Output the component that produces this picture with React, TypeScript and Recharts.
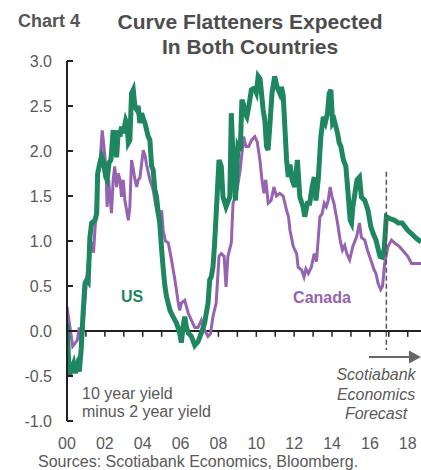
import React from 'react';
import { LineChart, Line, XAxis, YAxis, ReferenceLine } from 'recharts';

// 10 year minus 2 year yield spread
const usT = [2000.0, 2000.12, 2000.25, 2000.35, 2000.45, 2000.55, 2000.65, 2000.75, 2000.85, 2000.95, 2001.05, 2001.12, 2001.21, 2001.3, 2001.48, 2001.57, 2001.62, 2001.74, 2001.83, 2001.92, 2002.05, 2002.12, 2002.22, 2002.32, 2002.44, 2002.52, 2002.62, 2002.71, 2002.8, 2002.88, 2002.97, 2003.1, 2003.17, 2003.24, 2003.32, 2003.41, 2003.5, 2003.59, 2003.68, 2003.76, 2003.85, 2003.94, 2004.05, 2004.12, 2004.21, 2004.29, 2004.38, 2004.47, 2004.55, 2004.64, 2004.73, 2004.82, 2004.9, 2005.0, 2005.08, 2005.17, 2005.26, 2005.44, 2005.6, 2005.78, 2005.95, 2006.04, 2006.13, 2006.22, 2006.3, 2006.4, 2006.57, 2006.75, 2006.92, 2007.1, 2007.27, 2007.45, 2007.54, 2007.62, 2007.71, 2007.8, 2007.89, 2008.03, 2008.15, 2008.24, 2008.4, 2008.6, 2008.68, 2008.74, 2008.8, 2008.9, 2009.03, 2009.15, 2009.24, 2009.32, 2009.4, 2009.5, 2009.6, 2009.74, 2009.9, 2010.0, 2010.1, 2010.2, 2010.36, 2010.45, 2010.54, 2010.62, 2010.71, 2010.83, 2010.97, 2011.1, 2011.24, 2011.33, 2011.42, 2011.6, 2011.69, 2011.78, 2011.89, 2012.03, 2012.17, 2012.3, 2012.47, 2012.56, 2012.7, 2012.82, 2012.95, 2013.06, 2013.15, 2013.27, 2013.41, 2013.54, 2013.65, 2013.76, 2013.85, 2013.94, 2014.03, 2014.12, 2014.29, 2014.38, 2014.47, 2014.6, 2014.73, 2014.82, 2014.96, 2015.03, 2015.1, 2015.32, 2015.45, 2015.55, 2015.73, 2015.9, 2016.05, 2016.18, 2016.32, 2016.45, 2016.53, 2016.65, 2016.75, 2016.87, 2017.05, 2017.3, 2017.5, 2017.7, 2017.85, 2018.0, 2018.2, 2018.45, 2018.7];
const usV = [0.09, -0.5, -0.42, -0.36, -0.47, -0.38, -0.45, -0.2, 0.2, 0.53, 0.57, 0.55, 1.04, 1.2, 1.23, 1.31, 1.75, 1.87, 1.94, 1.88, 1.71, 1.68, 1.87, 1.9, 2.23, 2.16, 1.93, 2.23, 2.16, 2.27, 2.2, 2.34, 2.3, 2.09, 2.12, 2.64, 2.68, 2.49, 2.46, 2.5, 2.31, 2.42, 2.35, 2.31, 2.23, 2.16, 2.12, 1.83, 1.79, 1.57, 1.49, 1.31, 1.2, 0.9, 0.7, 0.5, 0.38, 0.23, 0.16, 0.09, -0.02, -0.13, 0.05, 0.16, 0.05, -0.02, -0.06, -0.16, -0.12, -0.02, 0.09, 0.31, 0.57, 0.6, 0.71, 0.98, 1.34, 1.9, 1.83, 1.49, 1.38, 1.49, 2.42, 2.1, 1.87, 1.45, 2.05, 2.0, 2.57, 2.52, 2.42, 2.38, 2.49, 2.68, 2.7, 2.65, 2.83, 2.8, 2.46, 2.34, 2.05, 2.01, 2.27, 2.64, 2.83, 2.71, 2.64, 2.71, 2.62, 1.9, 1.71, 1.85, 1.68, 1.6, 1.9, 1.49, 1.38, 1.27, 1.42, 1.42, 1.6, 1.71, 1.45, 1.68, 2.16, 2.38, 2.32, 2.42, 2.64, 2.68, 2.31, 2.34, 2.2, 2.09, 2.05, 1.9, 1.83, 1.6, 1.23, 1.2, 1.38, 1.68, 1.71, 1.49, 1.45, 1.34, 1.16, 1.08, 1.01, 0.9, 0.83, 0.82, 0.9, 1.27, 1.25, 1.23, 1.2, 1.2, 1.16, 1.12, 1.08, 1.03, 0.99];

const caT = [2000.0, 2000.15, 2000.3, 2000.45, 2000.55, 2000.65, 2000.78, 2000.9, 2001.0, 2001.12, 2001.25, 2001.4, 2001.5, 2001.6, 2001.74, 2001.86, 2001.95, 2002.05, 2002.12, 2002.2, 2002.35, 2002.44, 2002.52, 2002.62, 2002.71, 2002.8, 2002.88, 2002.97, 2003.06, 2003.24, 2003.32, 2003.41, 2003.5, 2003.59, 2003.68, 2003.76, 2003.85, 2004.03, 2004.12, 2004.2, 2004.38, 2004.55, 2004.73, 2004.9, 2005.0, 2005.08, 2005.2, 2005.35, 2005.52, 2005.7, 2005.86, 2005.95, 2006.04, 2006.22, 2006.4, 2006.57, 2006.75, 2006.92, 2007.1, 2007.27, 2007.45, 2007.58, 2007.71, 2007.88, 2008.03, 2008.15, 2008.3, 2008.4, 2008.5, 2008.68, 2008.77, 2008.95, 2009.15, 2009.33, 2009.45, 2009.6, 2009.75, 2009.92, 2010.05, 2010.19, 2010.3, 2010.4, 2010.5, 2010.63, 2010.78, 2010.93, 2011.06, 2011.24, 2011.42, 2011.6, 2011.7, 2011.78, 2011.95, 2012.13, 2012.21, 2012.39, 2012.52, 2012.62, 2012.75, 2012.91, 2013.06, 2013.18, 2013.36, 2013.47, 2013.59, 2013.7, 2013.8, 2013.9, 2014.0, 2014.1, 2014.29, 2014.43, 2014.55, 2014.67, 2014.78, 2014.93, 2015.1, 2015.3, 2015.45, 2015.55, 2015.73, 2015.87, 2016.05, 2016.22, 2016.32, 2016.43, 2016.57, 2016.67, 2016.78, 2016.96, 2017.14, 2017.35, 2017.55, 2017.8, 2018.0, 2018.2, 2018.7];
const caV = [0.27, 0.05, -0.17, -0.13, -0.1, 0.04, -0.15, 0.2, 0.5, 0.75, 1.0, 0.87, 1.2, 1.68, 1.87, 2.23, 2.05, 1.83, 1.38, 1.68, 1.31, 1.68, 1.83, 1.6, 1.75, 1.68, 1.49, 1.68, 1.45, 1.23, 1.38, 1.9, 1.8, 1.68, 1.6, 1.68, 1.7, 2.01, 1.95, 1.85, 1.68, 1.57, 1.34, 1.23, 1.34, 1.12, 1.0, 0.98, 0.79, 0.57, 0.34, 0.23, 0.31, 0.34, 0.2, 0.12, 0.04, 0.04, 0.12, 0.01, -0.06, -0.03, 0.16, 0.31, 0.83, 0.86, 0.83, 0.49, 0.83, 0.98, 1.42, 1.53, 1.79, 2.16, 2.05, 2.05, 2.12, 2.16, 2.1, 1.9, 1.68, 1.53, 1.68, 1.42, 1.45, 1.6, 1.5, 1.53, 1.5, 1.34, 1.27, 1.12, 0.94, 0.86, 0.71, 0.68, 0.6, 0.69, 0.64, 0.71, 0.86, 0.77, 1.27, 1.3, 1.42, 1.38, 1.45, 1.6, 1.49, 1.42, 1.2, 1.01, 0.9, 0.95, 0.86, 0.79, 0.94, 1.05, 1.2, 1.04, 1.01, 0.9, 0.79, 0.68, 0.64, 0.53, 0.46, 0.5, 0.75, 0.94, 1.01, 0.97, 0.94, 0.88, 0.83, 0.75, 0.75];

const xTicks = [2000, 2002, 2004, 2006, 2008, 2010, 2012, 2014, 2016, 2018];
const yearMarks = [2001, 2002, 2003, 2004, 2005, 2006, 2007, 2008, 2009, 2010, 2011, 2012, 2013, 2014, 2015, 2016, 2017, 2018];
const yTicks = [-1, -0.5, 0, 0.5, 1, 1.5, 2, 2.5, 3];
const forecastStart = 2016.87;

const usData = usT.map((t, i) => ({ t, v: usV[i] }));
const caData = caT.map((t, i) => ({ t, v: caV[i] }));

const FONT = '"Liberation Sans", Arial, sans-serif';
const TEXT = '#595959';
const US_COLOR = '#1e8760';
const CA_COLOR = '#9663b2';

const YTick = (props: any) => {
  const { x, y, payload } = props;
  return (
    <g>
      <line x1={x + 8} x2={x + 14} y1={y} y2={y} stroke="#222" strokeWidth={2} />
      <text x={x - 7} y={y} dy={5.5} textAnchor="end" fontSize={16} fill={TEXT} fontFamily={FONT}>
        {Number(payload.value).toFixed(1)}
      </text>
    </g>
  );
};

const XTick = (props: any) => {
  const { x, y, payload } = props;
  return (
    <text x={x} y={y} dy={20} textAnchor="middle" fontSize={16} fill={TEXT} fontFamily={FONT}>
      {String(payload.value % 100).padStart(2, '0')}
    </text>
  );
};

export default function App() {
  return (
    <div style={{ position: 'absolute', left: 0, top: 0, width: 421, height: 470, background: '#fff' }}>
      <LineChart width={421} height={470} margin={{ top: 61, right: 0, bottom: 19, left: 0 }}>
        <XAxis
          type="number"
          dataKey="t"
          domain={[2000, 2018.7]}
          ticks={xTicks}
          interval={0}
          axisLine={false}
          tickLine={false}
          tick={<XTick />}
          height={30}
          allowDataOverflow
        />
        <YAxis
          type="number"
          domain={[-1, 3]}
          ticks={yTicks}
          interval={0}
          width={67}
          axisLine={{ stroke: '#222', strokeWidth: 2 }}
          tickLine={false}
          tick={<YTick />}
          allowDataOverflow
        />
        <ReferenceLine y={0} stroke="#222" strokeWidth={2} />
        {yearMarks.map(yr => (
          <ReferenceLine key={yr} segment={[{ x: yr, y: 0 }, { x: yr, y: -0.065 }]} stroke="#222" strokeWidth={1.5} />
        ))}
        <Line data={caData} dataKey="v" type="linear" stroke={CA_COLOR} strokeWidth={3} dot={false} isAnimationActive={false} />
        <Line data={usData} dataKey="v" type="linear" stroke={US_COLOR} strokeWidth={5} dot={false} isAnimationActive={false} />
        <ReferenceLine
          segment={[{ x: forecastStart, y: 1.77 }, { x: forecastStart, y: -0.21 }]}
          stroke="#555"
          strokeWidth={1.5}
          strokeDasharray="5 3"
        />
      </LineChart>
      <svg width={421} height={470} style={{ position: 'absolute', left: 0, top: 0, pointerEvents: 'none' }} fontFamily={FONT}>
        <text x={18} y={27} fontSize={18} fontWeight="bold" fill="#555">Chart 4</text>
        <text x={250} y={29} fontSize={21} fontWeight="bold" fill="#4d4d4d" textAnchor="middle">Curve Flatteners Expected</text>
        <text x={250} y={54} fontSize={21} fontWeight="bold" fill="#4d4d4d" textAnchor="middle">In Both Countries</text>
        <text x={132} y={302} fontSize={16} fontWeight="bold" fill={US_COLOR} textAnchor="middle">US</text>
        <text x={322} y={303} fontSize={16} fontWeight="bold" fill={CA_COLOR} textAnchor="middle">Canada</text>
        <text x={82} y={399} fontSize={16} fill={TEXT}>10 year yield</text>
        <text x={82} y={417} fontSize={16} fill={TEXT}>minus 2 year yield</text>
        <text x={376} y={380} fontSize={16} fontStyle="italic" fill={TEXT} textAnchor="middle">Scotiabank</text>
        <text x={376} y={400} fontSize={16} fontStyle="italic" fill={TEXT} textAnchor="middle">Economics</text>
        <text x={376} y={419} fontSize={16} fontStyle="italic" fill={TEXT} textAnchor="middle">Forecast</text>
        <line x1={369} x2={410} y1={357} y2={357} stroke="#666" strokeWidth={2} />
        <polygon points="409,350.5 421,357 409,363.5" fill="#666" />
        <text x={38} y={467} fontSize={16} fill={TEXT}>Sources: Scotiabank Economics, Bloomberg.</text>
      </svg>
    </div>
  );
}
